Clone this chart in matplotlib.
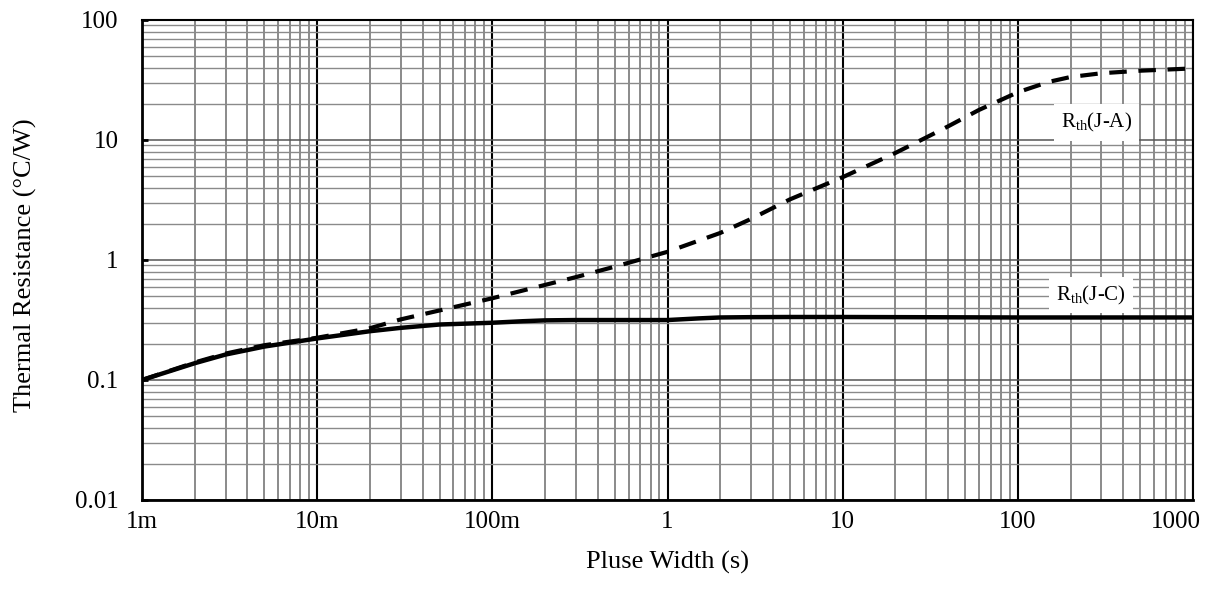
import matplotlib
matplotlib.use("Agg")
import matplotlib.pyplot as plt
from matplotlib.ticker import FixedLocator, LogLocator, NullFormatter
from matplotlib.transforms import ScaledTranslation

plt.rcParams["font.family"] = ["Liberation Serif", "DejaVu Serif"]
plt.rcParams["mathtext.fontset"] = "custom"
plt.rcParams["mathtext.rm"] = "Liberation Serif"

# junction-to-case
x_jc = [0.001, 0.002, 0.003, 0.005, 0.01, 0.02, 0.03, 0.05, 0.1, 0.15, 0.2, 0.3, 0.5, 1,
        1.5, 2, 3, 5, 10, 100, 1000]
y_jc = [0.100, 0.138, 0.163, 0.190, 0.222, 0.255, 0.272, 0.290, 0.300, 0.309, 0.314, 0.316,
        0.316, 0.316, 0.326, 0.332, 0.334, 0.335, 0.335, 0.332, 0.332]

# junction-to-ambient
x_ja = [0.001, 0.002, 0.003, 0.005, 0.01, 0.02, 0.03, 0.05, 0.1, 0.2, 0.3, 0.5, 1, 2, 3, 5,
        10, 20, 30, 40, 60, 100, 150, 200, 300, 500, 1000]
y_ja = [0.100, 0.140, 0.166, 0.195, 0.225, 0.27, 0.32, 0.38, 0.48, 0.62, 0.72, 0.88, 1.17,
        1.68, 2.2, 3.2, 4.9, 7.8, 10.5, 13, 17.8, 25, 30.5, 33.5, 36, 37.8, 39.5]

x_ticks = [0.001, 0.01, 0.1, 1, 10, 100, 1000]
x_labels = ["1m", "10m", "100m", "1", "10", "100", "1000"]
y_ticks = [0.01, 0.1, 1, 10, 100]
y_labels = ["0.01", "0.1", "1", "10", "100"]

fig = plt.figure(figsize=(12.11, 5.9), dpi=100)
ax = fig.add_axes([142 / 1211, 1 - 500 / 590, (1193 - 142) / 1211, 480 / 590])

ax.set_xscale("log")
ax.set_yscale("log")
ax.set_xlim(0.001, 1000)
ax.set_ylim(0.01, 100)

ax.xaxis.set_major_locator(FixedLocator(x_ticks))
ax.set_xticklabels(x_labels)
ax.xaxis.set_minor_locator(LogLocator(base=10, subs=range(2, 10), numticks=20))
ax.xaxis.set_minor_formatter(NullFormatter())
ax.yaxis.set_major_locator(FixedLocator(y_ticks))
ax.set_yticklabels(y_labels)
ax.yaxis.set_minor_locator(LogLocator(base=10, subs=range(2, 10), numticks=20))
ax.yaxis.set_minor_formatter(NullFormatter())

ax.grid(which="major", axis="x", color="black", lw=1.5)
ax.grid(which="minor", axis="x", color="#8a8a8a", lw=1.4)
ax.grid(which="major", axis="y", color="#555555", lw=1.1)
ax.grid(which="minor", axis="y", color="#8a8a8a", lw=1.0)
ax.set_axisbelow(True)

ax.tick_params(axis="x", which="both", length=0, pad=8, labelsize=18)
ax.tick_params(axis="y", which="major", direction="in", length=4, width=2, pad=17, labelsize=18)
ax.tick_params(axis="y", which="minor", length=0)

# last x label sits a bit left of the axis end, as in the original
last = ax.get_xticklabels()[-1]
last.set_horizontalalignment("right")
last.set_transform(last.get_transform() + ScaledTranslation(0.08, 0, fig.dpi_scale_trans))

for side in ["left", "bottom"]:
    ax.spines[side].set_linewidth(2)
for side in ["top", "right"]:
    ax.spines[side].set_linewidth(1.5)

ax.plot(x_jc, y_jc, color="black", lw=3.2, solid_capstyle="butt")
ax.plot(x_ja, y_ja, color="black", lw=3, dashes=(4.2, 2.8))

box = dict(facecolor="white", edgecolor="none", pad=5)
ax.text(280, 13.9, r"$\mathrm{R_{th}}$(J-A)", fontsize=15, ha="center", va="center", bbox=box)
ax.text(262, 0.51, r"$\mathrm{R_{th}}$(J-C)", fontsize=15, ha="center", va="center", bbox=box)

ax.set_xlabel("Pluse Width (s)", fontsize=19, labelpad=13)
ax.set_ylabel("Thermal Resistance (°C/W)", fontsize=19)
ax.yaxis.set_label_coords(-0.1, 0.49)

fig.savefig("out.png", dpi=100)
